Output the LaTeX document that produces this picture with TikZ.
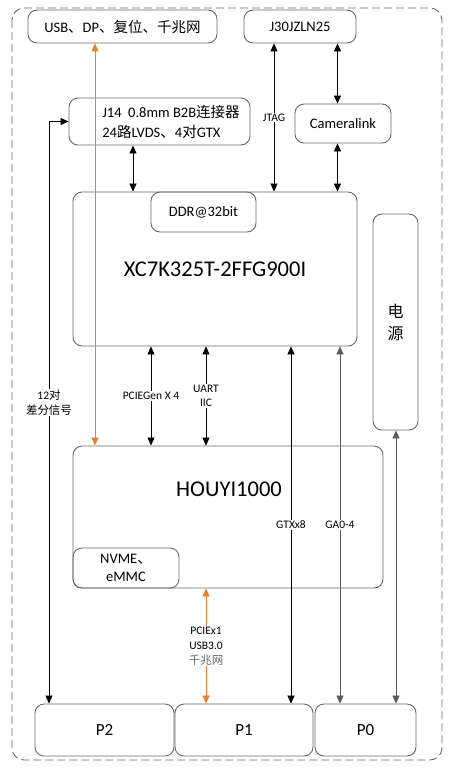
\documentclass[tikz,border=0pt]{standalone}
\usepackage{fontspec}
\setmainfont{Carlito}
\newfontfamily\cjk{Noto Sans CJK SC}
\usetikzlibrary{arrows.meta,positioning}
\definecolor{boxc}{RGB}{105,105,105}
\definecolor{orac}{RGB}{237,125,49}
\definecolor{grac}{RGB}{90,90,90}
\newcommand{\zh}[1]{{\cjk #1}}

\begin{document}
\begin{tikzpicture}[x=1pt,y=-1pt,>={Triangle[length=8pt,width=7pt]},
  blk/.style={draw=boxc,line width=0.9pt,rounded corners=9pt,inner sep=0pt,
    align=center,font=\fontsize{14.5}{18}\selectfont},
  lbl/.style={fill=white,inner sep=1pt,align=center,font=\fontsize{11.5}{14.5}\selectfont},
  lnk/.style={<->,line width=0.8pt}]
  \useasboundingbox (0,0) rectangle (455,774);
  % board outline
  \draw[draw=boxc,line width=0.9pt,rounded corners=12pt,dash pattern=on 8pt off 4pt]
    (12,8) rectangle (442,760);
  % top connectors
  \node[blk,minimum width=189pt,minimum height=33pt] (usb) at (122.5,26.5)
    {USB\zh{、}DP\zh{、复位、千兆网}};
  \node[blk,minimum width=112pt,minimum height=33pt] (j30) at (300,26.5) {J30JZLN25};
  \node[blk,minimum width=181pt,minimum height=47pt] (j14) at (159.5,121.5) {};
  \node[align=left,inner sep=0pt,font=\fontsize{14.5}{20}\selectfont] (j14t) at (171,122)
    {J14\ \ 0.8mm B2B\zh{连接器}\\24\zh{路}LVDS\zh{、}4\zh{对}GTX};
  \node[blk,minimum width=96pt,minimum height=39pt] (cam) at (343,123.5) {Cameralink};
  % chips
  \node[blk,minimum width=284pt,minimum height=154pt,font=\fontsize{22.5}{26}\selectfont]
    (fpga) at (215,269) {XC7K325T-2FFG900I};
  \node[blk,minimum width=105pt,minimum height=40pt] (ddr) at (203.5,212) {DDR@32bit};
  \node[blk,minimum width=45pt,minimum height=216pt,font=\fontsize{16}{22}\cjk]
    (pwr) at (395.5,322) {电\\源};
  \node[blk,minimum width=310pt,minimum height=142pt] (houyi) at (228,517) {};
  \node[font=\fontsize{22.5}{26}\selectfont,inner sep=0pt] (houyit) at (229,489) {HOUYI1000};
  \node[blk,minimum width=106pt,minimum height=40pt] (nvme) at (126,568)
    {NVME\zh{、}\\eMMC};
  % backplane
  \node[blk,minimum width=139pt,minimum height=52pt,font=\fontsize{17}{20}\selectfont]
    (p2) at (104.5,730) {P2};
  \node[blk,minimum width=138pt,minimum height=52pt,font=\fontsize{17}{20}\selectfont]
    (p1) at (244,730) {P1};
  \node[blk,minimum width=101pt,minimum height=52pt,font=\fontsize{17}{20}\selectfont]
    (p0) at (365.5,730) {P0};
  % link columns
  \coordinate (cOr) at (95,0);
  \coordinate (cLf) at (49,0);
  \coordinate (cJ14) at (133,0);
  \coordinate (cJtag) at (274,0);
  \coordinate (cCam) at (337.5,0);
  \coordinate (cPcie) at (151,0);
  \coordinate (cUart) at (206,0);
  \coordinate (cGtx) at (291,0);
  \coordinate (cGa) at (340,0);
  \coordinate (cPw) at (396,0);
  % links
  \draw[lnk] (j14.south -| cJ14) -- (fpga.north -| cJ14);
  \draw[lnk] (j30.south -| cJtag) -- node[lbl]{JTAG} (fpga.north -| cJtag);
  \draw[lnk] (j30.south -| cCam) -- (cam.north -| cCam);
  \draw[lnk] (cam.south -| cCam) -- (fpga.north -| cCam);
  \draw[lnk,draw=orac] (usb.south -| cOr) -- (houyi.north -| cOr);
  \draw[lnk] (p2.north -| cLf) -- node[lbl,pos=0.517]{12\zh{对}\\\zh{差分信号}}
    (cLf |- j14.west) -- (j14.west);
  \draw[lnk] (fpga.south -| cPcie) -- node[lbl]{PCIEGen X 4} (houyi.north -| cPcie);
  \draw[lnk] (fpga.south -| cUart) -- node[lbl]{UART\\IIC} (houyi.north -| cUart);
  \draw[lnk] (fpga.south -| cGtx) -- node[lbl]{GTXx8} (p1.north -| cGtx);
  \draw[lnk,draw=grac] (fpga.south -| cGa) -- node[lbl]{GA0-4} (p0.north -| cGa);
  \draw[lnk,draw=grac] (pwr.south -| cPw) -- (p0.north -| cPw);
  \draw[lnk,draw=orac] (houyi.south -| cUart) --
    node[lbl,font=\fontsize{11.5}{15}\selectfont]{PCIEx1\\USB3.0\\\textcolor{boxc}{\zh{千兆网}}}
    (p1.north -| cUart);
\end{tikzpicture}
\end{document}
